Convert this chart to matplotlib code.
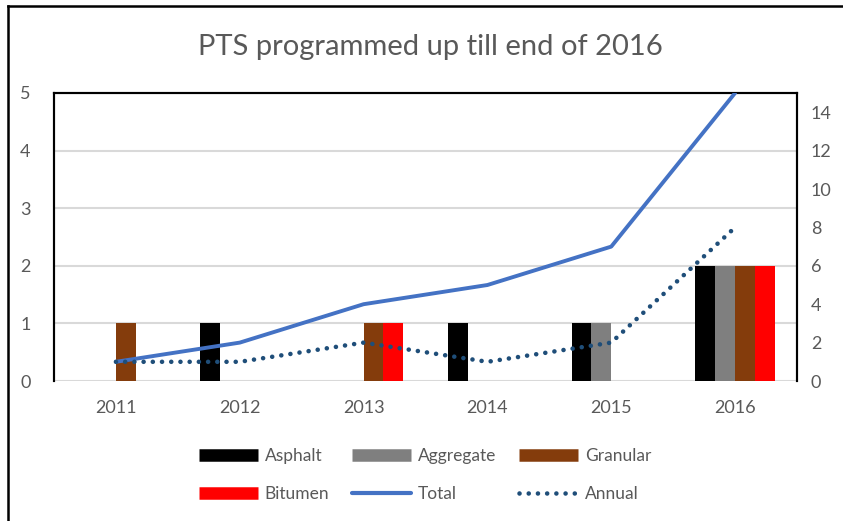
import numpy as np
import matplotlib.pyplot as plt
from matplotlib.lines import Line2D

plt.rcParams['font.family'] = ['Lato', 'DejaVu Sans']

# ---- data ----
years = ['2011', '2012', '2013', '2014', '2015', '2016']
asphalt = [0, 1, 0, 1, 1, 2]
aggregate = [0, 0, 0, 0, 1, 2]
granular = [1, 0, 1, 0, 0, 2]
bitumen = [0, 0, 1, 0, 0, 2]
total = [1, 2, 4, 5, 7, 15]
annual = [1, 1, 2, 1, 2, 8]

bar_series = [('Asphalt', asphalt, '#000000'),
              ('Aggregate', aggregate, '#7f7f7f'),
              ('Granular', granular, '#843c0c'),
              ('Bitumen', bitumen, '#ff0000')]

grey = '#595959'
fig = plt.figure(figsize=(8.43, 5.21), dpi=100)
ax = fig.add_axes([0.0641, 0.2687, 0.8813, 0.5528])
ax2 = ax.twinx()

x = np.arange(len(years))
w = 0.16
for i, (name, vals, col) in enumerate(bar_series):
    ax.bar(x + (i - 1.5) * w, vals, w, color=col, zorder=3)

ax.set_xlim(-0.5, len(years) - 0.5)
ax.set_ylim(0, 5)
ax.set_yticks(range(6))
ax.yaxis.grid(True, color='#d9d9d9', linewidth=1.5, zorder=0)
ax.set_axisbelow(True)
ax.set_xticks(x)
ax.set_xticklabels(years)

ax2.plot(x, total, color='#4472c4', linewidth=2.8, solid_capstyle='round', zorder=4)
ax2.plot(x, annual, color='#1f4e79', linewidth=3.3, linestyle=(0, (0.01, 2.0)),
         dash_capstyle='round', zorder=4)
ax2.set_ylim(0, 15)
ax2.set_yticks(range(0, 15, 2))

for a in (ax, ax2):
    a.tick_params(length=0, labelsize=13, labelcolor=grey, pad=10)
    for s in a.spines.values():
        s.set_color('black')
        s.set_linewidth(1.5)
    a.spines['bottom'].set_visible(False)
ax.tick_params(axis='x', pad=14)
ax.tick_params(axis='y', pad=17)

fig.suptitle('PTS programmed up till end of 2016', x=0.51, y=0.935,
             fontsize=21, color=grey)

handles = [Line2D([], [], color='#000000', lw=9, solid_capstyle='butt'),
           Line2D([], [], color='#ff0000', lw=9, solid_capstyle='butt'),
           Line2D([], [], color='#7f7f7f', lw=9, solid_capstyle='butt'),
           Line2D([], [], color='#4472c4', lw=3, solid_capstyle='round'),
           Line2D([], [], color='#843c0c', lw=9, solid_capstyle='butt'),
           Line2D([], [], color='#1f4e79', lw=3.3, linestyle=(0, (0.01, 2.0)),
                  dash_capstyle='round')]
labels = ['Asphalt', 'Bitumen', 'Aggregate', 'Total', 'Granular', 'Annual']
leg = fig.legend(handles, labels, ncol=3, loc='center', bbox_to_anchor=(0.504, 0.088),
                 frameon=False, fontsize=12.5, handlelength=3.4, handletextpad=0.4,
                 columnspacing=1.3, labelspacing=1.25)
for t in leg.get_texts():
    t.set_color(grey)

# outer frame of the chart object
fig.add_artist(Line2D([0.0095, 0.0095], [0.0, 0.9885], color='black', lw=1.8,
                      transform=fig.transFigure))
fig.add_artist(Line2D([0.0095, 1.0], [0.9885, 0.9885], color='black', lw=1.8,
                      transform=fig.transFigure))

fig.savefig('out.png', dpi=100)
